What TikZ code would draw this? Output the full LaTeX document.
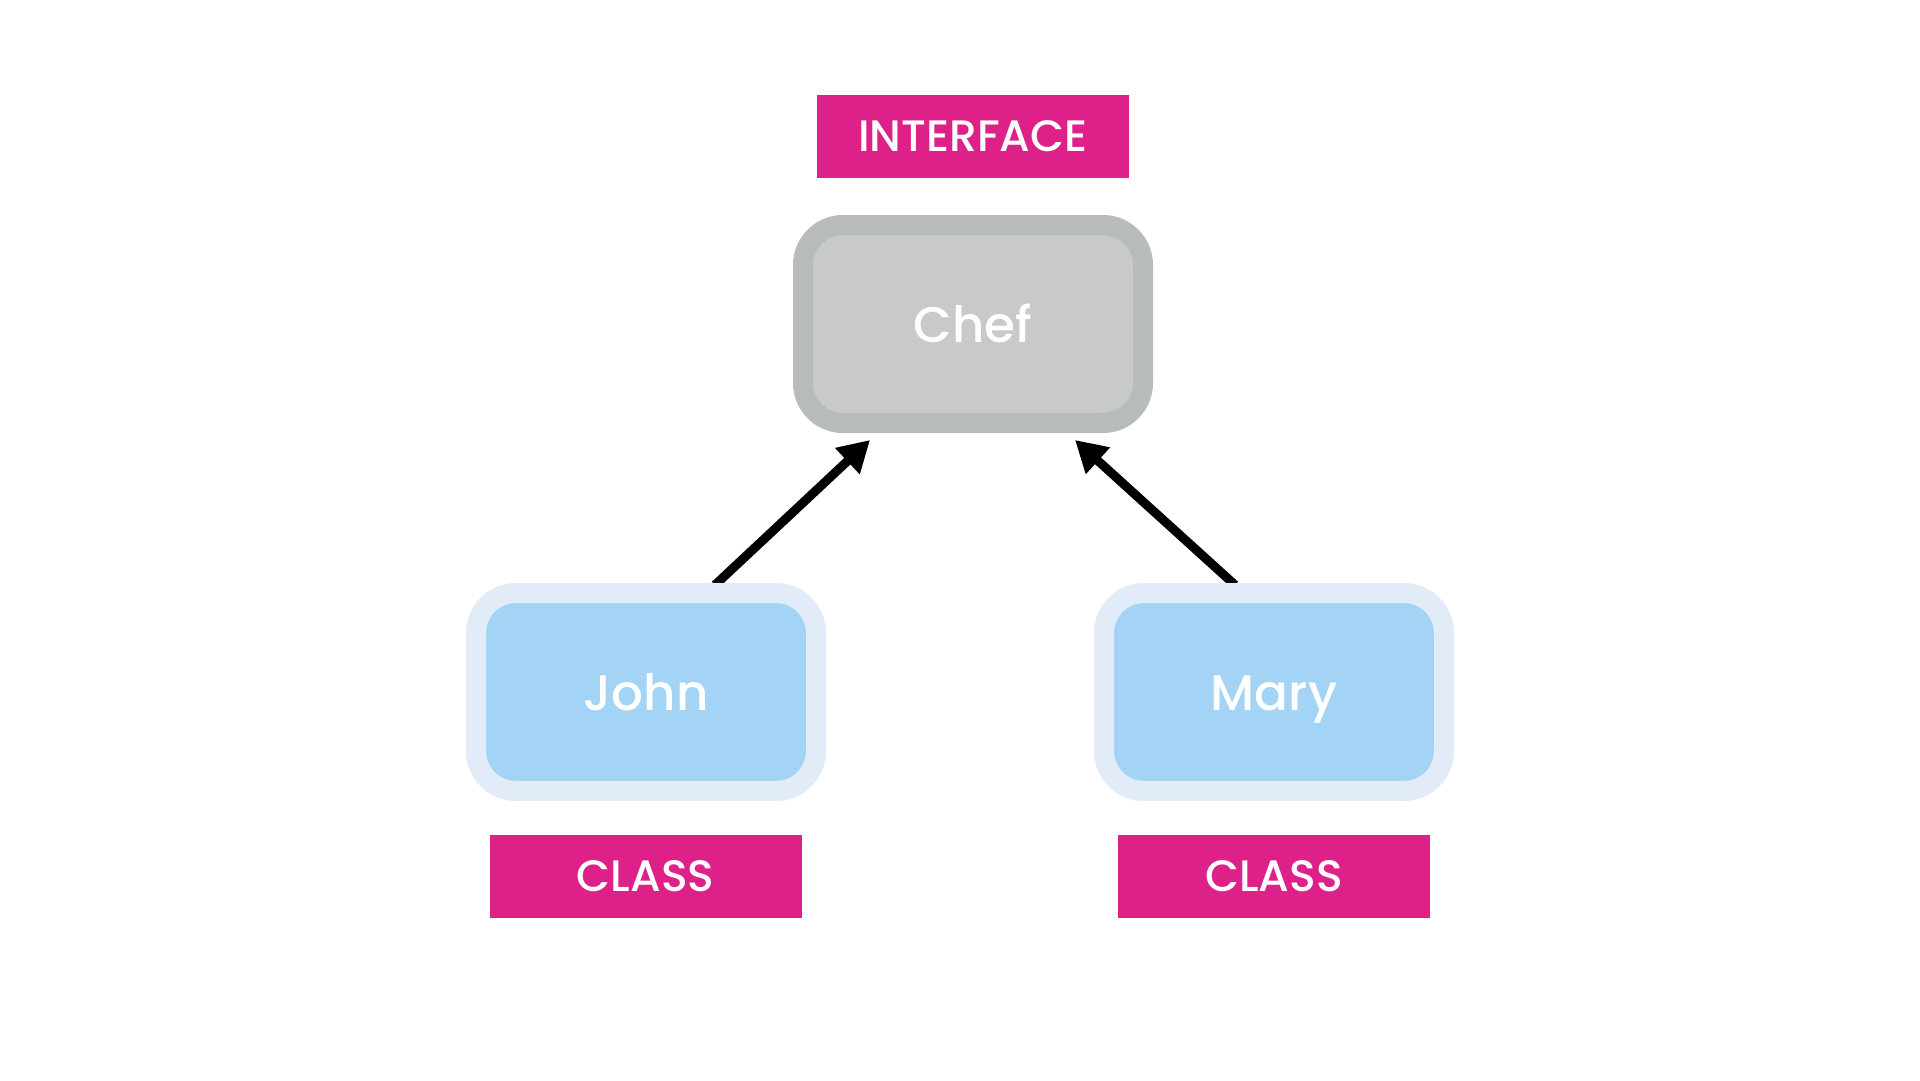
\documentclass[tikz,border=0pt]{standalone}
\usepackage{fontspec}
\setmainfont{Poppins}[UprightFont=* Medium]
\usetikzlibrary{arrows.meta,calc}
\definecolor{tagpink}{RGB}{222,33,136}
\definecolor{chefedge}{RGB}{183,187,185}
\definecolor{cheffill}{RGB}{200,201,203}
\definecolor{classedge}{RGB}{225,236,248}
\definecolor{classfill}{RGB}{164,212,245}
\pgfdeclarelayer{back}
\pgfsetlayers{back,main}
\tikzset{
  box/.style={rectangle, rounded corners=40pt, line width=20pt, inner sep=0pt, outer sep=0pt,
    minimum width=340pt, minimum height=198pt, text=white, text height=40pt, text depth=3pt,
    font=\fontsize{50}{60}\selectfont},
  ifacebox/.style={box, draw=chefedge, fill=cheffill},
  classbox/.style={box, draw=classedge, fill=classfill},
  tag/.style={rectangle, fill=tagpink, inner sep=0pt, outer sep=0pt, minimum width=312pt,
    minimum height=83pt, text=white, text height=31pt, text depth=0pt,
    font=\fontsize{44}{52}\selectfont},
  link/.style={line width=9pt, -{Triangle[length=31pt,width=34pt]}}
}
\begin{document}
\begin{tikzpicture}[x=1pt,y=-1pt]
  \useasboundingbox (0,0) rectangle (1920,1080);

  \node[tag] (iface) at (973,136) {INTERFACE};
  \node[ifacebox] (chef) at (973,324) {Chef};
  \node[classbox] (john) at (646,692) {John};
  \node[classbox] (mary) at (1274,692) {Mary};
  \node[tag] (cls1) at (645.5,876) {CLASS};
  \node[tag] (cls2) at (1274,876) {CLASS};

  \coordinate (jfrom) at ($(john.north)+(69,-8)$);
  \coordinate (mfrom) at ($(mary.north)+(-39,-8)$);
  \coordinate (jto) at ($(chef.south)+(-103,17)$);
  \coordinate (mto) at ($(chef.south)+(102,17)$);

  \begin{pgfonlayer}{back}
    \fill[white] (0,0) rectangle (1920,1080);
    \draw[link] (jfrom) -- (jto);
    \draw[link] (mfrom) -- (mto);
  \end{pgfonlayer}
\end{tikzpicture}
\end{document}
